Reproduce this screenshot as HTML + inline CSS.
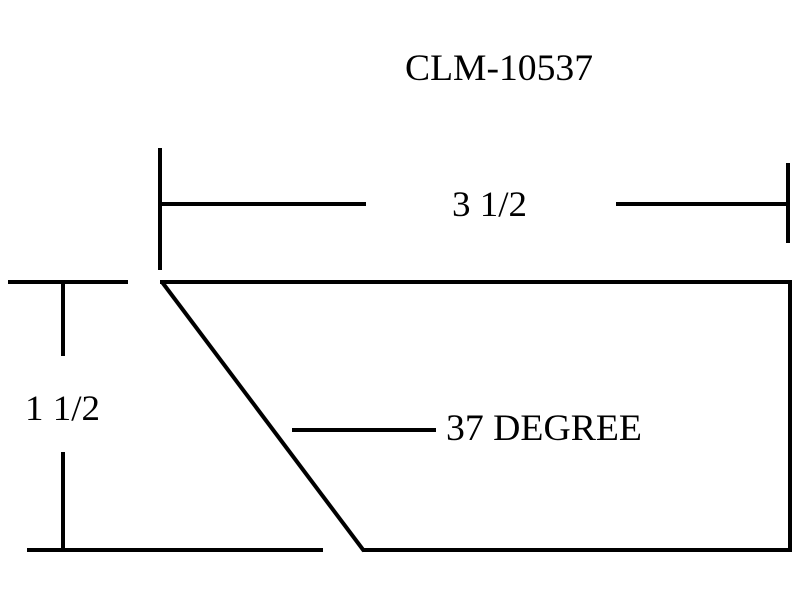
<!DOCTYPE html>
<html><head><style>
html,body{margin:0;padding:0;background:#fff;width:800px;height:600px;overflow:hidden}
</style></head><body>
<svg width="800" height="600" xmlns="http://www.w3.org/2000/svg">
<g stroke="#000" stroke-width="4" fill="none">
<line x1="160" y1="148" x2="160" y2="270"/>
<line x1="160" y1="204" x2="366" y2="204"/>
<line x1="616" y1="204" x2="790" y2="204"/>
<line x1="788" y1="163" x2="788" y2="243"/>
<line x1="8" y1="282" x2="128" y2="282"/>
<line x1="160" y1="282" x2="792" y2="282"/>
<line x1="790" y1="280" x2="790" y2="552"/>
<line x1="363" y1="550" x2="792" y2="550"/>
<line x1="162" y1="282" x2="364" y2="551"/>
<line x1="27" y1="550" x2="323" y2="550"/>
<line x1="63" y1="284" x2="63" y2="356"/>
<line x1="63" y1="452" x2="63" y2="550"/>
<line x1="292" y1="430" x2="436" y2="430"/>
</g>
<g font-family="Liberation Serif, serif" fill="#000">
<text x="405" y="80" font-size="37" textLength="188" lengthAdjust="spacingAndGlyphs">CLM-10537</text>
<text x="452" y="216" font-size="36" textLength="75" lengthAdjust="spacingAndGlyphs">3 1/2</text>
<text x="25" y="420" font-size="36" textLength="75" lengthAdjust="spacingAndGlyphs">1 1/2</text>
<text x="446" y="440" font-size="37" textLength="196" lengthAdjust="spacingAndGlyphs">37 DEGREE</text>
</g>
</svg>
</body></html>
